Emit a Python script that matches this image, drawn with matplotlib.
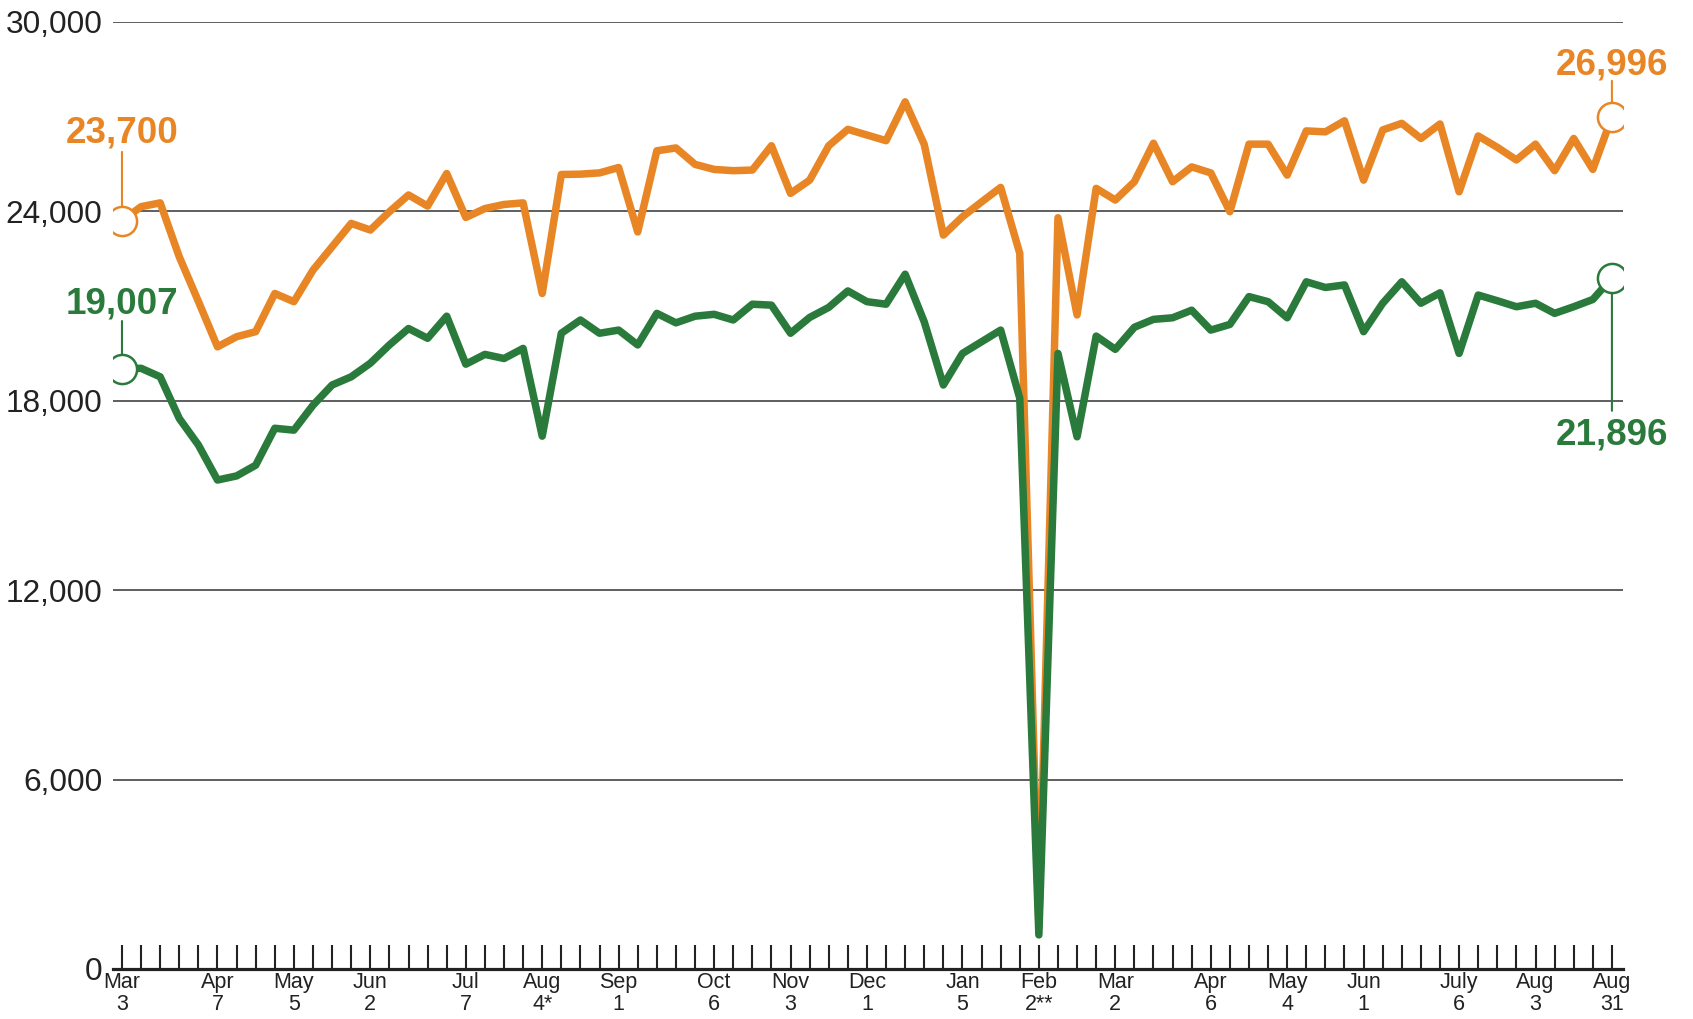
import matplotlib
matplotlib.use("Agg")
import matplotlib.pyplot as plt
import numpy as np

plt.rcParams['font.family'] = ['Liberation Sans', 'DejaVu Sans']

# weekly values, Mar 3 (year 1) .. Aug 31 (year 2)
orange = [23700, 24150, 24270, 22560, 21150, 19710, 20030, 20190, 21400, 21140,
          22140, 22880, 23620, 23410, 23990, 24520, 24170, 25200, 23810, 24090,
          24220, 24270, 21400, 25170, 25180, 25220, 25390, 23350, 25920, 26010,
          25490, 25330, 25290, 25310, 26080, 24570, 24990, 26080, 26600, 26420,
          26240, 27470, 26120, 23250, 23830, 24300, 24760, 22670, 1400, 23800,
          20720, 24730, 24360, 24940, 26160, 24940, 25410, 25220, 23990, 26130,
          26130, 25150, 26550, 26520, 26870, 24990, 26580, 26790, 26310, 26770,
          24620, 26390, 26030, 25630, 26130, 25290, 26310, 25330, 26996]

green = [19007, 19030, 18760, 17440, 16600, 15490, 15620, 15960, 17130, 17070,
         17860, 18500, 18760, 19190, 19770, 20290, 19980, 20680, 19160, 19470,
         19340, 19660, 16880, 20140, 20560, 20140, 20240, 19770, 20770, 20470,
         20680, 20740, 20560, 21060, 21030, 20140, 20640, 20960, 21480, 21140,
         21060, 22010, 20500, 18500, 19500, 19870, 20240, 18080, 1080, 19500,
         16860, 20050, 19630, 20330, 20580, 20630, 20870, 20240, 20420, 21300,
         21140, 20630, 21770, 21590, 21670, 20190, 21090, 21770, 21090, 21420,
         19500, 21350, 21170, 20980, 21090, 20770, 20980, 21210, 21896]

label_idx = [0, 5, 9, 13, 18, 22, 26, 31, 35, 39, 44, 48, 52, 57, 61, 65, 70, 74, 78]
label_txt = ["Mar\n3", "Apr\n7", "May\n5", "Jun\n2", "Jul\n7", "Aug\n4*", "Sep\n1",
             "Oct\n6", "Nov\n3", "Dec\n1", "Jan\n5", "Feb\n2**", "Mar\n2", "Apr\n6",
             "May\n4", "Jun\n1", "July\n6", "Aug\n3", "Aug\n31"]
y_ticks = [0, 6000, 12000, 18000, 24000, 30000]

ORANGE = "#E88626"
GREEN = "#2A7A3C"

fig = plt.figure(figsize=(16.93, 10.19), dpi=100)
ax = fig.add_axes([113 / 1693, 1 - 969 / 1019, (1623 - 113) / 1693, (969 - 22) / 1019])

x = np.arange(len(orange))
ax.plot(x, orange, color=ORANGE, lw=5.4, solid_joinstyle='round', solid_capstyle='round', zorder=3)
ax.plot(x, green, color=GREEN, lw=5.4, solid_joinstyle='round', solid_capstyle='round', zorder=4)

ax.set_xlim(-0.47, 78.58)
ax.set_ylim(0, 30000)

# y axis
ax.set_yticks(y_ticks)
ax.set_yticklabels([f"{v:,}" for v in y_ticks])
ax.tick_params(axis='y', length=0, pad=7.5, labelsize=22.8, labelcolor='#222222')
for v in y_ticks[1:]:
    ax.axhline(v, color='#333333', lw=1.1, zorder=1)

# x axis: a tick per week, labels on month starts
ax.set_xticks(x)
labels = [""] * len(x)
for i, t in zip(label_idx, label_txt):
    labels[i] = t
ax.set_xticklabels(labels, linespacing=1.05)
ax.tick_params(axis='x', direction='in', length=17.3, width=1.5, color='#222222',
               pad=2.5, labelsize=15.5, labelcolor='#222222')

for s in ['top', 'right', 'left']:
    ax.spines[s].set_visible(False)
ax.spines['bottom'].set_linewidth(2.3)
ax.spines['bottom'].set_color('#222222')
ax.spines['bottom'].set_zorder(5)

# end markers and labels
def mark(i, series, color, text_off, line_from, line_to):
    v = series[i]
    ax.plot(i, v, 'o', ms=21, mfc='white', mec=color, mew=1.8, zorder=6)
    ax.annotate(f"{v:,}", xy=(i, v), xytext=(0, text_off), textcoords='offset pixels',
                ha='center', va='baseline', fontsize=26.5, fontweight='bold', color=color)
    ax.annotate("", xy=(i, v), xytext=(0, line_from), textcoords='offset pixels',
                arrowprops=dict(arrowstyle='-', color=color, lw=1.5,
                                shrinkA=0, shrinkB=line_to))

mark(0, orange, ORANGE, 78, 69, 9.5)
mark(0, green, GREEN, 56, 48, 9.5)
mark(78, orange, ORANGE, 42, 36, 9.5)
mark(78, green, GREEN, -167, -133, 9.5)

fig.savefig("out.png", dpi=100)
